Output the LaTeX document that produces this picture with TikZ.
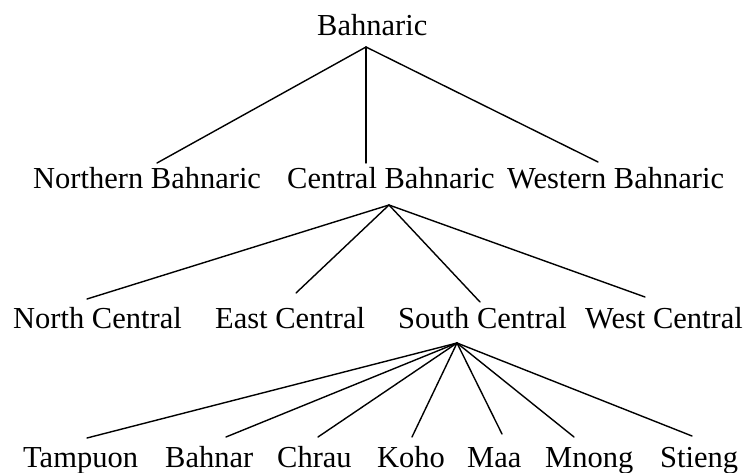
\documentclass[tikz,border=0pt]{standalone}
\usepackage{fontspec}
\setmainfont{Liberation Serif}
\begin{document}
\begin{tikzpicture}[x=1pt,y=-1pt,
  lang/.style={font=\fontsize{30.5}{36}\selectfont, inner sep=0pt, anchor=base west},
  branch/.style={line width=1.4pt, line cap=round, line join=round}]
\useasboundingbox (0,0) rectangle (750,473);

% root
\node[lang] (root) at (317,36) {Bahnaric};

% first split
\node[lang] (nb) at (33,189)  {Northern Bahnaric};
\node[lang] (cb) at (287,189) {Central Bahnaric};
\node[lang] (wb) at (507,189) {Western Bahnaric};

% Central Bahnaric subgroups
\node[lang] (nc) at (13,328)  {North Central};
\node[lang] (ec) at (215,328) {East Central};
\node[lang] (sc) at (398,328) {South Central};
\node[lang] (wc) at (585,328) {West Central};

% South Central languages
\node[lang] (tam) at (23,467)  {Tampuon};
\node[lang] (bah) at (165,467) {Bahnar};
\node[lang] (chr) at (277,467) {Chrau};
\node[lang] (koh) at (377,467) {Koho};
\node[lang] (maa) at (467,467) {Maa};
\node[lang] (mno) at (545,467) {Mnong};
\node[lang] (sti) at (660,467) {Stieng};

% branching points below each parent
\coordinate (root-foot) at (366,47);
\coordinate (cb-foot)   at (389,205);
\coordinate (sc-foot)   at (457,343);

% attachment points above each child
\coordinate (nb-head)  at (157,163);
\coordinate (cb-head)  at (366,163);
\coordinate (wb-head)  at (598,162);
\coordinate (nc-head)  at (87,299);
\coordinate (ec-head)  at (296,293);
\coordinate (sc-head)  at (480,302);
\coordinate (wc-head)  at (645,297);
\coordinate (tam-head) at (87,438);
\coordinate (bah-head) at (226,437);
\coordinate (chr-head) at (318,437);
\coordinate (koh-head) at (412,437);
\coordinate (maa-head) at (502,434);
\coordinate (mno-head) at (574,437);
\coordinate (sti-head) at (692,436);

\foreach \c in {nb,cb,wb} \draw[branch] (root-foot) -- (\c-head);
\foreach \c in {nc,ec,sc,wc} \draw[branch] (cb-foot) -- (\c-head);
\foreach \c in {tam,bah,chr,koh,maa,mno,sti} \draw[branch] (sc-foot) -- (\c-head);
\end{tikzpicture}
\end{document}
